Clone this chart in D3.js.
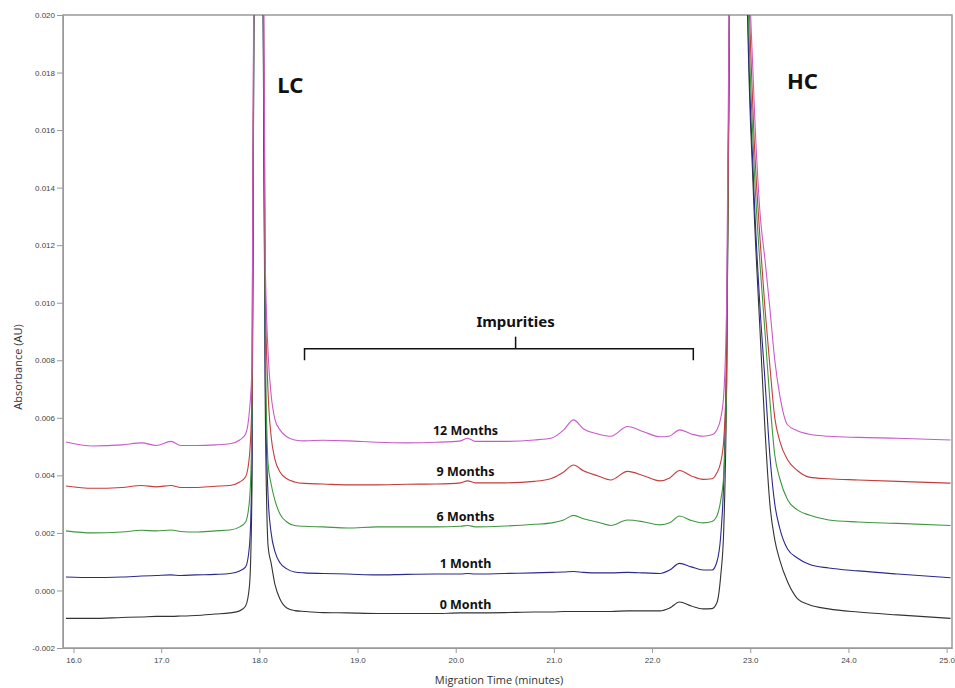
<!DOCTYPE html>
<html>
<head>
<meta charset="utf-8">
<script src="https://cdn.jsdelivr.net/npm/d3@7"></script>
<style>
  body { margin: 0; background: #fff; }
  svg { display: block; }
  .axis text { font-family: "Liberation Sans", Arial, sans-serif; font-size: 8px; fill: #444; }
  .axis path, .axis line { stroke: #999; }
  .title { font-family: "Open Sans", "Noto Sans", sans-serif; font-size: 11px; fill: #333; }
  .label { font-family: "Noto Sans", "Open Sans", sans-serif; font-weight: bold; fill: #111; }
</style>
</head>
<body>
<svg id="chart" width="955" height="688"></svg>
<script>
// migration time (minutes), shared by every trace
const times = [16.03, 16.3, 16.6, 16.8, 16.95, 17.1, 17.2, 17.35, 17.55, 17.7, 17.8, 17.86, 17.9,
    17.925, 17.945, 17.99, 18.035, 18.06,
    18.09, 18.12, 18.16, 18.21, 18.28, 18.36, 18.46, 18.65, 18.9,
    19.2, 19.5, 19.8, 20.05, 20.12, 20.2, 20.5, 20.8, 20.98,
    21.1, 21.2, 21.3, 21.45, 21.58, 21.75, 21.92, 22.08, 22.18, 22.28, 22.4, 22.52, 22.61, 22.66,
    22.7, 22.73, 22.76, 22.79,
    22.88, 22.97, 23.03, 23.1, 23.15, 23.2, 23.25, 23.3, 23.38, 23.48, 23.6, 23.8, 24.1, 24.5, 25.04];

// absorbance (AU) for each stability time point
const month12 = [0.00516, 0.00502, 0.00506, 0.00513, 0.00504, 0.00518, 0.00504, 0.00504, 0.00506, 0.00510, 0.00523, 0.00544, 0.00628,
    0.0078, 0.024, 0.08, 0.026, 0.0115,
    0.0082, 0.0068, 0.00593, 0.00558, 0.00534, 0.00523, 0.00520, 0.00522, 0.00520,
    0.00515, 0.00513, 0.00515, 0.00520, 0.00529, 0.00518, 0.00518, 0.00523, 0.00530,
    0.00558, 0.00593, 0.00562, 0.00544, 0.00536, 0.00570, 0.00551, 0.00534, 0.00537, 0.00558, 0.00544, 0.00536, 0.00541, 0.00558,
    0.00600, 0.00680, 0.0101, 0.023,
    0.055, 0.0245, 0.0178, 0.0131, 0.0115, 0.0098, 0.0080, 0.0068, 0.00576, 0.00555, 0.00543, 0.00536, 0.00532, 0.00529, 0.00523];
const month9 = [0.00363, 0.00355, 0.00358, 0.00365, 0.00360, 0.00365, 0.00358, 0.00358, 0.00362, 0.00365, 0.00377, 0.00395, 0.00471,
    0.0068, 0.023, 0.078, 0.025, 0.0105,
    0.0068, 0.00535, 0.00454, 0.00412, 0.00388, 0.00377, 0.00372, 0.00370, 0.00367,
    0.00367, 0.00369, 0.00370, 0.00374, 0.00381, 0.00374, 0.00374, 0.00379, 0.00390,
    0.00412, 0.00436, 0.00416, 0.00398, 0.00384, 0.00414, 0.00398, 0.00381, 0.00391, 0.00417, 0.00398, 0.00386, 0.00388, 0.00409,
    0.00447, 0.00523, 0.00802, 0.022,
    0.053, 0.0235, 0.0165, 0.0122, 0.0098, 0.0078, 0.0060, 0.0052, 0.00454, 0.00417, 0.00394, 0.00388, 0.00384, 0.00379, 0.00373];
const month6 = [0.00207, 0.00200, 0.00203, 0.00209, 0.00207, 0.00210, 0.00205, 0.00203, 0.00207, 0.00210, 0.00221, 0.00238, 0.00315,
    0.0058, 0.022, 0.075, 0.024, 0.0090,
    0.00435, 0.00370, 0.00311, 0.00266, 0.00238, 0.00226, 0.00223, 0.00221, 0.00217,
    0.00221, 0.00221, 0.00221, 0.00223, 0.00226, 0.00221, 0.00224, 0.00230, 0.00235,
    0.00245, 0.00261, 0.00249, 0.00237, 0.00226, 0.00245, 0.00238, 0.00228, 0.00235, 0.00259, 0.00243, 0.00235, 0.00240, 0.00259,
    0.00315, 0.00402, 0.00732, 0.021,
    0.052, 0.022, 0.0155, 0.0113, 0.0090, 0.0066, 0.0047, 0.0039, 0.00315, 0.00280, 0.00262, 0.00245, 0.00238, 0.00233, 0.00226];
const month1 = [0.00047, 0.00045, 0.00047, 0.00050, 0.00052, 0.00054, 0.00052, 0.00054, 0.00056, 0.00059, 0.00068, 0.00082, 0.00158,
    0.0046, 0.021, 0.072, 0.023, 0.0075,
    0.00320, 0.00200, 0.00134, 0.00096, 0.00075, 0.00064, 0.00061, 0.00059, 0.00057,
    0.00054, 0.00056, 0.00057, 0.00057, 0.00059, 0.00057, 0.00059, 0.00061, 0.00063,
    0.00064, 0.00066, 0.00063, 0.00061, 0.00061, 0.00063, 0.00061, 0.00059, 0.00071, 0.00094, 0.00082, 0.00071, 0.00071, 0.00099,
    0.00193, 0.00384, 0.00871, 0.021,
    0.050, 0.021, 0.0145, 0.0098, 0.0073, 0.0047, 0.0030, 0.00217, 0.00144, 0.00113, 0.00091, 0.00078, 0.00068, 0.00057, 0.00044];
const month0 = [-0.00097, -0.00097, -0.00094, -0.00092, -0.00090, -0.00090, -0.00089, -0.00087, -0.00082, -0.00078, -0.00071, -0.00054, 0.00019,
    0.0036, 0.021, 0.070, 0.022, 0.0065,
    0.00150, 0.00095, 0.00019, -0.00030, -0.00061, -0.00070, -0.00073, -0.00077, -0.00078,
    -0.00080, -0.00080, -0.00080, -0.00078, -0.00078, -0.00078, -0.00077, -0.00075, -0.00075,
    -0.00073, -0.00073, -0.00073, -0.00073, -0.00073, -0.00071, -0.00071, -0.00071, -0.00061, -0.00040, -0.00054, -0.00064, -0.00063, -0.00043,
    0.00054, 0.00210, 0.00732, 0.021,
    0.050, 0.0205, 0.0140, 0.0090, 0.0056, 0.0030, 0.00176, 0.00106, 0.00030, -0.00028, -0.00050, -0.00064, -0.00075, -0.00085, -0.00097];

const seriesNames = ["12 Months", "9 Months", "6 Months", "1 Month", "0 Month"];
const seriesValues = [month12, month9, month6, month1, month0];
const seriesColors = ["#c95ac9", "#c43c3c", "#3f983f", "#2a2a8c", "#333333"];
// where each trace label sits (time, absorbance)
const labelTimes = [20.1, 20.1, 20.1, 20.1, 20.1];
const labelValues = [0.00541, 0.00398, 0.00240, 0.00078, -0.00064];

const xTicks = [16, 17, 18, 19, 20, 21, 22, 23, 24, 25];
const yTicks = [-0.002, 0, 0.002, 0.004, 0.006, 0.008, 0.010, 0.012, 0.014, 0.016, 0.018, 0.020];

const chainLabels = [
    { text: "LC", t: 18.183, v: 0.0173 },
    { text: "HC", t: 23.374, v: 0.01744 }
];
const impurities = { t0: 18.46, t1: 22.42, mid: 20.61, v: 0.0084, vEnd: 0.0080, vTop: 0.00882, vText: 0.00916 };

const svg = d3.select("svg#chart");
const width = +svg.attr("width");
const height = +svg.attr("height");
const margin = { top: 15, right: 3, bottom: 40, left: 63 };
const chartWidth = width - margin.left - margin.right;
const chartHeight = height - margin.top - margin.bottom;

const x = d3.scaleLinear().domain([16, 25.055]).range([0, chartWidth]);
const y = d3.scaleLinear().domain([-0.002, 0.020]).range([chartHeight, 0]);

const chartArea = svg.append("g")
    .attr("transform", `translate(${margin.left},${margin.top})`);

svg.append("defs").append("clipPath").attr("id", "plotClip")
    .append("rect").attr("width", chartWidth).attr("height", chartHeight);

// axes
const bottomAxis = d3.axisBottom(x).tickValues(xTicks).tickFormat(d3.format(".1f"))
    .tickSize(5).tickSizeOuter(0).tickPadding(4);
const bottomG = chartArea.append("g")
    .attr("class", "x axis")
    .attr("transform", `translate(0,${chartHeight})`)
    .call(bottomAxis);
// the instrument software pushes the first tick in from the corner
bottomG.selectAll(".tick").filter(d => d === 16)
    .attr("transform", `translate(${x(16) + 11},0)`);

const leftAxis = d3.axisLeft(y).tickValues(yTicks).tickFormat(d => d.toFixed(3))
    .tickSize(6).tickSizeOuter(0).tickPadding(2);
chartArea.append("g")
    .attr("class", "y axis")
    .call(leftAxis);

// frame
chartArea.append("rect")
    .attr("width", chartWidth)
    .attr("height", chartHeight)
    .attr("fill", "none")
    .attr("stroke", "#999")
    .attr("stroke-width", 1.5);

// traces, oldest sample drawn last so it sits on top like the original
const line = d3.line()
    .x((d, i) => x(times[i]))
    .y(d => y(d))
    .curve(d3.curveMonotoneX);

const order = [4, 3, 2, 1, 0];
chartArea.append("g")
    .attr("clip-path", "url(#plotClip)")
    .selectAll("path.trace")
    .data(order)
    .join("path")
    .attr("class", "trace")
    .attr("fill", "none")
    .attr("stroke", i => seriesColors[i])
    .attr("stroke-width", 1.1)
    .attr("d", i => line(seriesValues[i]));

// trace labels
chartArea.selectAll("text.month")
    .data(seriesNames)
    .join("text")
    .attr("class", "label month")
    .attr("x", (d, i) => x(labelTimes[i]))
    .attr("y", (d, i) => y(labelValues[i]))
    .attr("text-anchor", "middle")
    .style("font-size", "12.5px")
    .text(d => d);

// LC / HC
chartArea.selectAll("text.chain")
    .data(chainLabels)
    .join("text")
    .attr("class", "label chain")
    .attr("x", d => x(d.t))
    .attr("y", d => y(d.v))
    .style("font-size", "22px")
    .text(d => d.text);

// impurities bracket
const bracket = chartArea.append("g").attr("stroke", "#111").attr("stroke-width", 1.5).attr("fill", "none");
bracket.append("path")
    .attr("d", `M${x(impurities.t0)},${y(impurities.vEnd)}V${y(impurities.v)}H${x(impurities.t1)}V${y(impurities.vEnd)}`);
bracket.append("line")
    .attr("x1", x(impurities.mid)).attr("x2", x(impurities.mid))
    .attr("y1", y(impurities.v)).attr("y2", y(impurities.vTop));
chartArea.append("text")
    .attr("class", "label")
    .attr("x", x(impurities.mid))
    .attr("y", y(impurities.vText))
    .attr("text-anchor", "middle")
    .style("font-size", "15px")
    .text("Impurities");

// axis titles
svg.append("text")
    .attr("class", "title")
    .attr("transform", `translate(22,367) rotate(-90)`)
    .attr("text-anchor", "middle")
    .text("Absorbance (AU)");
svg.append("text")
    .attr("class", "title")
    .attr("x", 499)
    .attr("y", 684)
    .attr("text-anchor", "middle")
    .text("Migration Time (minutes)");
</script>
</body>
</html>
